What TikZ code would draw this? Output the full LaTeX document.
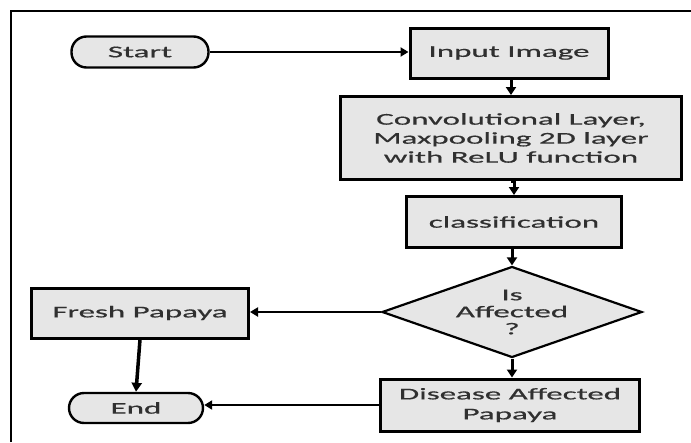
\documentclass[tikz,border=0pt]{standalone}
\usepackage{fontspec}
\setmainfont{Carlito}[FakeStretch=2.0, FakeBold=0.6]
\usetikzlibrary{shapes.geometric,arrows.meta}
\definecolor{boxfill}{HTML}{E6E6E6}
\definecolor{ink}{HTML}{303030}
\tikzset{
  base/.style={draw=black, fill=boxfill, line width=3pt, inner sep=0pt,
    text=ink, font=\fontsize{16.5}{19}\selectfont, align=center},
  procbox/.style={base, rectangle},
  termbox/.style={base, rectangle, rounded corners=15pt, line width=2.4pt},
  decbox/.style={base, diamond, line width=2.2pt, aspect=2.86},
  link/.style={line width=2.2pt, -{Triangle[length=8pt,width=9pt]}},
  vlink/.style={line width=3pt, -{Triangle[length=8pt,width=10pt]}},
}
\begin{document}
\begin{tikzpicture}[x=1pt,y=-1pt]
  \useasboundingbox (0,0) rectangle (691,442);
  % outer frame (top and left edges)
  \draw[line width=2.4pt] (11,442) -- (11,11) -- (691,11);

  % nodes
  \node[termbox, minimum width=137, minimum height=31] (start) at (140,52) {Start};
  \node[procbox, minimum width=198, minimum height=50] (input) at (509,53) {Input Image};
  \node[procbox, minimum width=341, minimum height=83] (conv) at (511,138)
    {Convolutional Layer,\\Maxpooling 2D layer\\with ReLU function};
  \node[procbox, minimum width=215, minimum height=51] (cls) at (514,222) {classification};
  \node[decbox, minimum width=260, minimum height=91,
        font=\fontsize{16.5}{17}\selectfont] (dec) at (512,312) {Is\\Affected\\?};
  \node[procbox, minimum width=259, minimum height=52,
        font=\fontsize{16.5}{20}\selectfont] (dis) at (510,405) {Disease Affected\\Papaya};
  \node[procbox, minimum width=217, minimum height=50] (fresh) at (140,313) {Fresh Papaya};
  \node[termbox, minimum width=134, minimum height=30] (end) at (136,408) {End};

  % connectors
  \draw[link] (start.east) -- (start.east -| input.west);
  \draw[vlink] (conv.north |- input.south) -- (conv.north);
  \draw[vlink] (conv.south) -- (conv.south -| cls.north) -- (cls.north);
  \draw[vlink] (cls.south -| dec.north) -- (dec.north);
  \draw[vlink] (dec.south) -- (dec.south |- dis.north);
  \draw[link] (dec.west) -- (dec.west -| fresh.east);
  \draw[line width=3.5pt, -{Triangle[length=9pt,width=10pt]}] (fresh.south) -- (end.north);
  \draw[link] (dis.west) -- (dis.west -| end.east);
\end{tikzpicture}
\end{document}
